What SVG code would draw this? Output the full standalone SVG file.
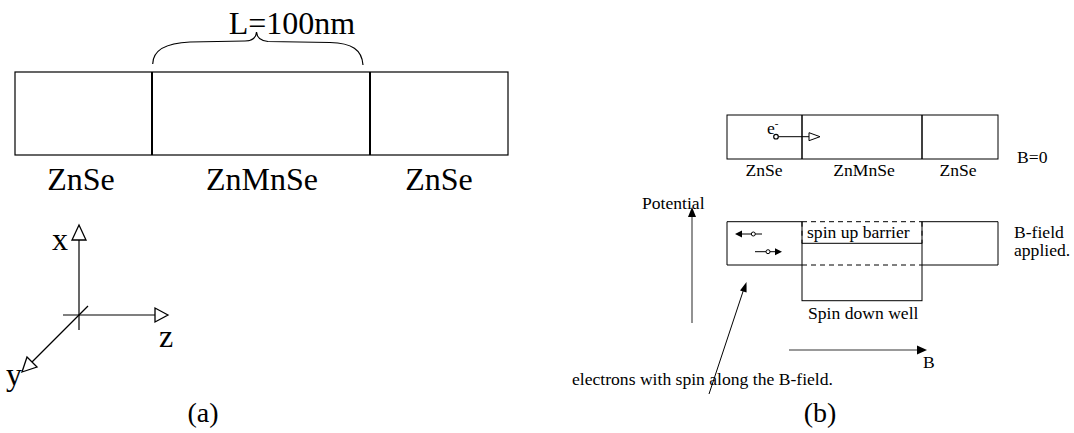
<svg xmlns="http://www.w3.org/2000/svg" width="1074" height="433" viewBox="0 0 1074 433">
<style>
text{font-family:"Liberation Serif","Times New Roman",serif;fill:#000}
.big{font-size:32px}
.sm{font-size:17.6px}
.cap{font-size:28px}
.ln{fill:none;stroke:#000;stroke-width:1.2}
.thin{fill:none;stroke:#000;stroke-width:1}
.dash{fill:none;stroke:#000;stroke-width:1;stroke-dasharray:5,4}
.gray{fill:none;stroke:#777;stroke-width:1.6}
.open{fill:#fff;stroke:#000;stroke-width:1.3}
.solid{fill:#000;stroke:none}
</style>
<rect width="1074" height="433" fill="#fff"/>
<!-- (a) -->
<g id="layers-a">
  <rect x="15" y="72" width="493" height="83" class="ln" stroke-width="1.5"/>
  <line x1="152" y1="72" x2="152" y2="155" stroke="#000" stroke-width="2"/>
  <line x1="370" y1="72" x2="370" y2="155" stroke="#000" stroke-width="2"/>
  <text class="big" x="81" y="190" text-anchor="middle">ZnSe</text>
  <text class="big" x="262" y="190" text-anchor="middle">ZnMnSe</text>
  <text class="big" x="439" y="190" text-anchor="middle">ZnSe</text>
</g>
<g id="brace">
  <path d="M152.7,64 C153,50 165,43 190,42 L245,41 C252,41 256,38 256.5,32 C257,38 261,41 268,41.5 L330,42.5 C352,43 362,50 363,65" class="ln" stroke-width="1.4"/>
  <text class="big" x="292" y="34" text-anchor="middle">L=100nm</text>
</g>
<g id="axes">
  <line x1="79" y1="330" x2="79" y2="240" class="ln"/>
  <polygon points="79,225 72,240 86,240" class="open"/>
  <line x1="63" y1="315" x2="155" y2="315" class="ln"/>
  <polygon points="168,315 155,308 155,322" class="open"/>
  <line x1="88" y1="306" x2="32" y2="362" class="ln"/>
  <polygon points="22,372 37,367 27,357" class="open"/>
  <text class="big" x="52" y="250">x</text>
  <text class="big" x="159" y="347">z</text>
  <text class="big" x="6" y="385">y</text>
</g>
<text class="cap" x="203" y="422" text-anchor="middle">(a)</text>
<!-- (b) top -->
<g id="layers-b0">
  <rect x="727" y="115" width="271" height="44" class="thin"/>
  <line x1="802" y1="115" x2="802" y2="159" stroke="#000" stroke-width="1.5"/>
  <line x1="922" y1="115" x2="922" y2="159" stroke="#000" stroke-width="1.5"/>
  <text class="sm" x="764" y="176" text-anchor="middle">ZnSe</text>
  <text class="sm" x="864" y="176" text-anchor="middle">ZnMnSe</text>
  <text class="sm" x="958" y="176" text-anchor="middle">ZnSe</text>
  <text class="sm" x="1017" y="163">B=0</text>
</g>
<g id="electron-b0">
  <text class="sm" x="767" y="134">e<tspan dy="-7" font-size="11">-</tspan></text>
  <line x1="778.5" y1="136.7" x2="809" y2="136.7" class="thin"/>
  <circle cx="776" cy="136.7" r="2.3" fill="#fff" stroke="#000" stroke-width="1.2"/>
  <polygon points="820,136.7 809,132.7 809,140.7" fill="#fff" stroke="#000" stroke-width="1"/>
</g>
<!-- (b) bottom -->
<g id="potential-profile">
  <polyline points="802,243.3 802,221.7 727,221.7 727,265 802,265" class="thin"/>
  <polyline points="922,243.3 922,221.7 998,221.7 998,265 922,265" class="thin"/>
  <line x1="802" y1="221.7" x2="922" y2="221.7" class="dash"/>
  <line x1="802" y1="221.7" x2="802" y2="243.3" class="dash"/>
  <line x1="922" y1="221.7" x2="922" y2="243.3" class="dash"/>
  <line x1="802" y1="265" x2="922" y2="265" class="dash"/>
  <rect x="802" y="243.3" width="120" height="57.4" class="thin"/>
  <text class="sm" x="807" y="238">spin up barrier</text>
  <text class="sm" x="808" y="319">Spin down well</text>
  <text class="sm" x="1014" y="238">B-field</text>
  <text class="sm" x="1014" y="256">applied.</text>
</g>
<g id="electrons-b">
  <line x1="742" y1="234" x2="762" y2="234" class="thin"/>
  <circle cx="753.3" cy="234" r="2" fill="#fff" stroke="#000" stroke-width="1"/>
  <polygon points="735,234 742,230.5 742,237.5" class="solid"/>
  <line x1="755" y1="251.7" x2="775" y2="251.7" class="thin"/>
  <circle cx="768" cy="251.7" r="2" fill="#fff" stroke="#000" stroke-width="1"/>
  <polygon points="782,251.7 775,248.2 775,255.2" class="solid"/>
</g>
<g id="connectors">
  <line x1="692" y1="323" x2="692" y2="216" class="gray"/>
  <polygon points="692,207 688,217 696,217" class="solid"/>
  <line x1="789" y1="350" x2="918" y2="350" class="gray"/>
  <polygon points="927,350 917,345.5 917,354.5" class="solid"/>
  <line x1="709" y1="394" x2="743.5" y2="290" class="thin"/>
  <polygon points="746.5,282 746.6,292.6 740,290.4" class="solid"/>
</g>
<text class="sm" x="642" y="209">Potential</text>
<text class="sm" x="923" y="368">B</text>
<text class="sm" x="572" y="385">electrons with spin along the B-field.</text>
<text class="cap" x="820" y="422" text-anchor="middle">(b)</text>
</svg>
